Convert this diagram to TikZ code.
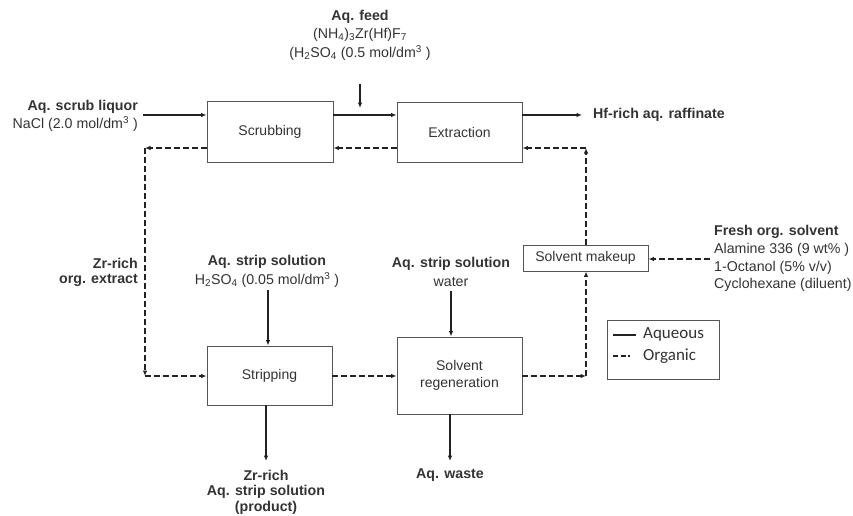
\documentclass[tikz,border=0pt]{standalone}
\usepackage{fontspec}
\setmainfont{Liberation Sans}
\newfontfamily\legendfont{Carlito}
\usetikzlibrary{arrows.meta}
\definecolor{txt}{HTML}{333333}
\definecolor{ln}{HTML}{222222}
\definecolor{bx}{HTML}{555555}
\begin{document}
\begin{tikzpicture}[x=1pt,y=-1pt,
  box/.style={draw=bx, line width=0.9pt, font=\fontsize{14}{16.5}\selectfont, text=txt, align=center, inner sep=0pt},
  tip/.style={-{Latex[length=5.5pt,width=4.5pt]}},
  aq/.style={draw=ln, line width=1.4pt, tip},
  org/.style={draw=ln, line width=1.4pt, dash pattern=on 6pt off 3pt, tip},
  lbl/.style={font=\fontsize{14.2}{16}\selectfont, text=txt, inner sep=0pt},
  blbl/.style={font=\fontsize{14.2}{16}\selectfont\bfseries, text=txt, inner sep=0pt},
  leg/.style={font=\legendfont\fontsize{17}{20}\selectfont, text=txt, inner sep=0pt}]
\path[use as bounding box] (0,0) rectangle (853,515);

% boxes
\node[box, minimum width=126pt, minimum height=61pt] (scrub) at (270,132) {Scrubbing};
\node[box, minimum width=125pt, minimum height=60pt] (extr) at (459.5,132) {Extraction};
\node[box, minimum width=125pt, minimum height=59pt] (strip) at (269.5,375.5) {Stripping};
\node[box, minimum width=125pt, minimum height=77pt] (regen) at (459.5,375.5) {Solvent\\regeneration};
\node[box, minimum width=125pt, minimum height=26pt] (makeup) at (585.5,258) {Solvent makeup};

% labels
\node[blbl] (feed1) at (360,17) {Aq. feed};
\node[lbl] (feed2) at (360,35) {(NH\textsubscript{4})\textsubscript{3}Zr(Hf)F\textsubscript{7}};
\node[lbl] (feed3) at (360,53) {(H\textsubscript{2}SO\textsubscript{4} (0.5 mol/dm\textsuperscript{3} )};

\node[blbl, anchor=east] (sl1) at (138,107) {Aq. scrub liquor};
\node[lbl, anchor=east] (sl2) at (138,124) {NaCl (2.0 mol/dm\textsuperscript{3} )};

\node[blbl, anchor=west] (raff) at (593,115) {Hf-rich aq. raffinate};

\node[blbl, anchor=east] (zr1) at (138,263) {Zr-rich};
\node[blbl, anchor=east] (zr2) at (138,280) {org. extract};

\node[blbl] (ss1) at (267,262) {Aq. strip solution};
\node[lbl] (ss2) at (267,280) {H\textsubscript{2}SO\textsubscript{4} (0.05 mol/dm\textsuperscript{3} )};

\node[blbl] (ws1) at (451,264) {Aq. strip solution};
\node[lbl] (ws2) at (451,282) {water};

\node[blbl] (pr1) at (266,475) {Zr-rich};
\node[blbl] (pr2) at (266,492) {Aq. strip solution};
\node[blbl] (pr3) at (266,508) {(product)};

\node[blbl] (waste) at (450,475) {Aq. waste};

\node[blbl, anchor=west] (fo1) at (714,232) {Fresh org. solvent};
\node[lbl, anchor=west] (fo2) at (714,250) {Alamine 336 (9 wt\% )};
\node[lbl, anchor=west] (fo3) at (714,268) {1-Octanol (5\% v/v)};
\node[lbl, anchor=west] (fo4) at (714,285) {Cyclohexane (diluent)};

% aqueous connectors
\coordinate (slc) at (143,115);
\draw[aq] (slc) -- (scrub.west |- slc);
\draw[aq] (scrub.east |- slc) -- (extr.west |- slc);
\coordinate (feedtop) at (360,84);
\coordinate (feedend) at (360,108);
\draw[aq] (feedtop) -- (feedend);
\coordinate (raffend) at (582,115);
\draw[aq] (extr.east |- slc) -- (raffend);
\coordinate (sstop) at (268,290);
\draw[aq] (sstop) -- (strip.north -| sstop);
\coordinate (wstop) at (451,291);
\draw[aq] (wstop) -- (regen.north -| wstop);
\coordinate (prend) at (266,461);
\draw[aq] (strip.south -| prend) -- (prend);
\coordinate (wend) at (450,461);
\draw[aq] (regen.south -| wend) -- (wend);

% organic connectors
\coordinate (orgy) at (0,148);
\draw[org] (extr.west |- orgy) -- (scrub.east |- orgy);
\coordinate (lc1) at (145,148);
\coordinate (lc2) at (145,376);
\draw[org] (scrub.west |- lc1) -- (lc1);
\draw[org] (lc1) -- (lc2);
\draw[org] (lc2) -- (strip.west |- lc2);
\draw[org] (strip.east |- lc2) -- (regen.west |- lc2);
\coordinate (rc) at (586,376);
\draw[org] (regen.east |- rc) -- (rc);
\draw[org] (rc) -- (makeup.south -| rc);
\coordinate (mc) at (586,148);
\draw[org] (makeup.north -| mc) -- (mc);
\draw[org] (mc) -- (extr.east |- mc);
\coordinate (fo) at (710,259);
\draw[org] (fo) -- (makeup.east |- fo);

% legend
\node[draw=bx, line width=0.9pt, minimum width=112pt, minimum height=59pt, inner sep=0pt] (legbox) at (663,349.5) {};
\coordinate (la1) at (613,335);
\coordinate (la2) at (636,335);
\draw[ln, line width=1.4pt] (la1) -- (la2);
\node[leg, anchor=west] (legaq) at (643,334) {Aqueous};
\coordinate (lo1) at (613,356);
\coordinate (lo2) at (636,356);
\draw[ln, line width=1.4pt, dash pattern=on 5pt off 2.5pt on 5pt off 2.5pt on 2pt off 20pt] (lo1) -- (lo2);
\node[leg, anchor=west] (legorg) at (643,356) {Organic};
\end{tikzpicture}
\end{document}
